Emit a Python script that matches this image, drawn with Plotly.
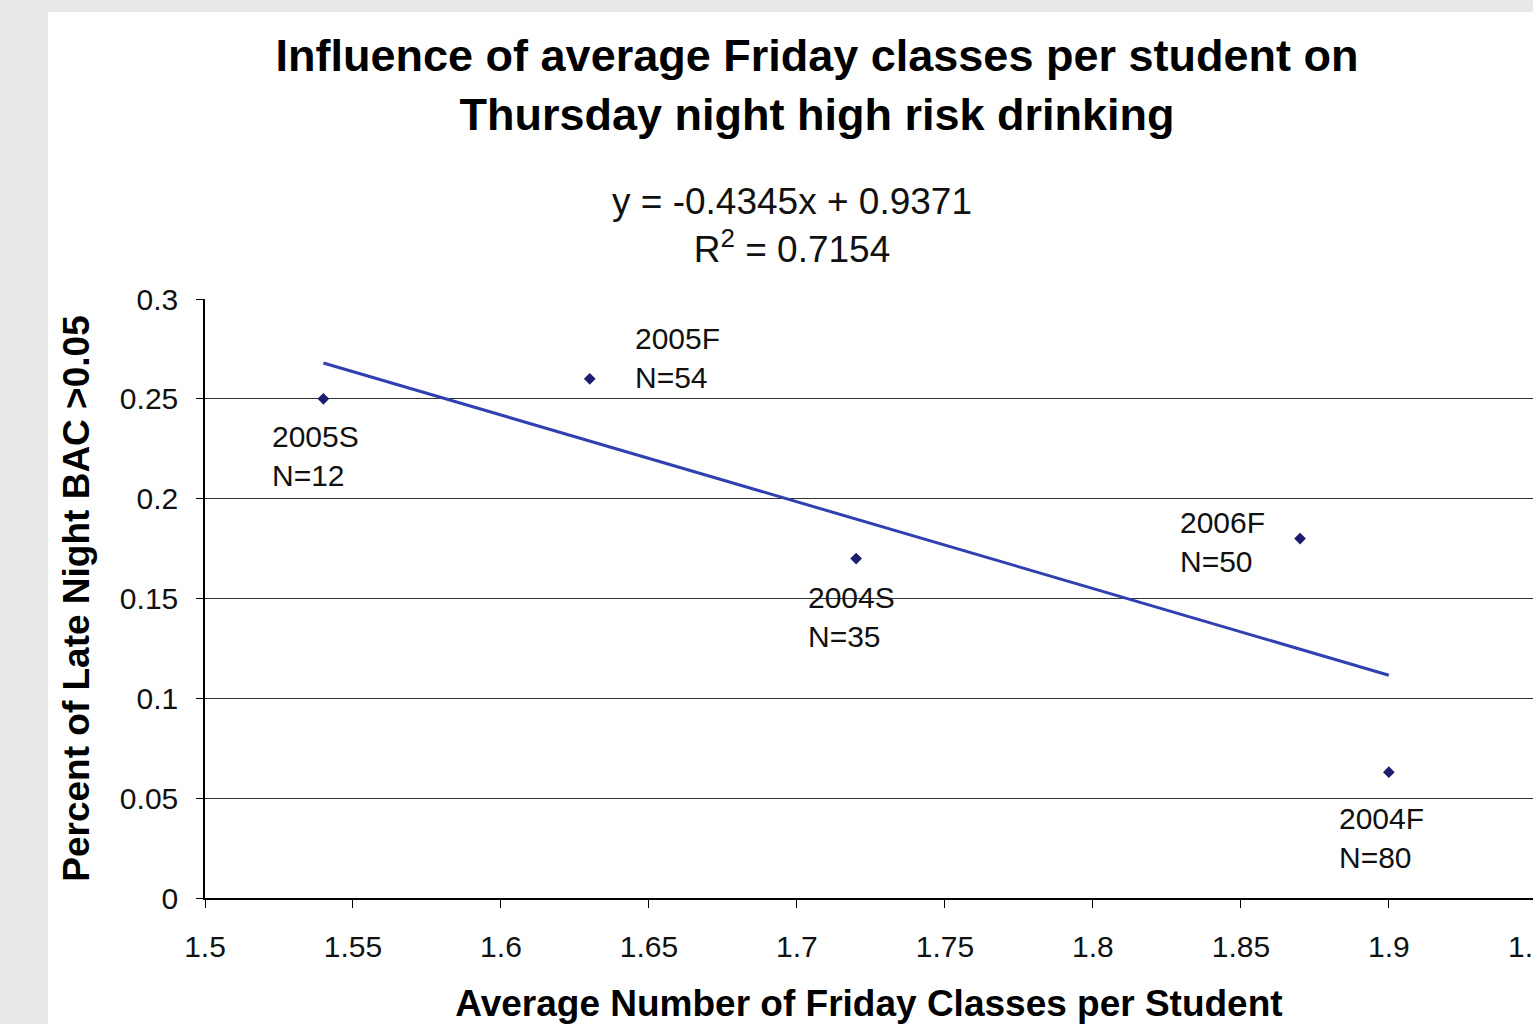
import plotly.graph_objects as go

# ---- data ----
terms = ["2005S", "2005F", "2004S", "2006F", "2004F"]
sample_sizes = [12, 54, 35, 50, 80]
friday_classes = [1.54, 1.63, 1.72, 1.87, 1.90]
pct_bac = [0.25, 0.26, 0.17, 0.18, 0.063]
slope = -0.4345
intercept = 0.9371
r_squared = 0.7154
x_ticks = [1.5, 1.55, 1.6, 1.65, 1.7, 1.75, 1.8, 1.85, 1.9, 1.95]
y_ticks = [0, 0.05, 0.1, 0.15, 0.2, 0.25, 0.3]

# label offsets (pixels, style only): (xshift, yshift)
label_offsets = [(-53, -57), (43, 21), (-50, -58), (-122, -3), (-52, -66)]

FONT = "Arial, Liberation Sans, sans-serif"
X_RANGE = [1.5, 1.9487]  # axis continues past the right edge of the picture

fig = go.Figure()

x_fit = [min(friday_classes), max(friday_classes)]
y_fit = [slope * v + intercept for v in x_fit]
fig.add_trace(go.Scatter(x=x_fit, y=y_fit, mode="lines",
                         line=dict(color="#3040b0", width=3),
                         hoverinfo="skip", showlegend=False))
fig.add_trace(go.Scatter(x=friday_classes, y=pct_bac, mode="markers",
                         marker=dict(symbol="diamond", size=9, color="#1c1c70"),
                         showlegend=False))

for t, n, xv, yv, (dx, dy) in zip(terms, sample_sizes, friday_classes, pct_bac, label_offsets):
    fig.add_annotation(x=xv, y=yv, xref="x", yref="y", text=f"{t}<br>N={n}",
                       showarrow=False, xanchor="left", yanchor="middle", align="left",
                       xshift=dx, yshift=dy, font=dict(family=FONT, size=30, color="#111"))

# last tick label, cut by the right edge as in the original
last_tick = x_ticks[-1]
fig.add_annotation(xref="paper", yref="paper",
                   x=(last_tick - X_RANGE[0]) / (X_RANGE[1] - X_RANGE[0]), y=-0.0818,
                   xanchor="center", yanchor="middle", text=f"{last_tick}", showarrow=False,
                   font=dict(family=FONT, size=30, color="#111"))

fig.add_annotation(xref="paper", yref="paper", x=0.442, y=1.1235, xanchor="center", yanchor="middle",
                   text=f"y = {slope}x + {intercept}<br>R<sup>2</sup> = {r_squared}",
                   showarrow=False, font=dict(family=FONT, size=37, color="#111"))

# white panel over gray page
fig.add_shape(type="rect", xref="paper", yref="paper", x0=(48 - 205) / 1328, x1=1.05,
              y0=-0.25, y1=(898 - 12) / 599, fillcolor="white", line=dict(width=0), layer="below")

fig.update_layout(
    width=1533, height=1024,
    margin=dict(l=205, r=0, t=299, b=126, autoexpand=False),
    paper_bgcolor="#e8e8e8", plot_bgcolor="white",
    title=dict(text="Influence of average Friday classes per student on<br>Thursday night high risk drinking",
               x=817 / 1533, xanchor="center", xref="container", y=1 - 71 / 1024, yanchor="top",
               font=dict(family=FONT, size=45, color="#000", weight="bold")),
    font=dict(family=FONT, color="#111"),
)
fig.update_xaxes(range=X_RANGE, tickvals=x_ticks, ticks="outside", ticklen=8, tickcolor="#000",
                 showline=True, linecolor="#000", linewidth=1.5, showgrid=False, zeroline=False,
                 tickfont=dict(size=30, family=FONT, color="#111"), ticklabelstandoff=13,
                 title=dict(text="<b>Average Number of Friday Classes per Student</b>",
                            font=dict(size=37, family=FONT, color="#000"), standoff=38),
                 automargin=False)
fig.update_yaxes(range=[0, 0.3], tickvals=y_ticks, ticks="outside", ticklen=7, tickcolor="#000",
                 showline=True, linecolor="#000", linewidth=1.5, showgrid=True, gridcolor="#333",
                 gridwidth=1, zeroline=False,
                 tickfont=dict(size=30, family=FONT, color="#111"), ticklabelstandoff=12,
                 title=dict(text="<b>Percent of Late Night BAC >0.05</b>",
                            font=dict(size=37, family=FONT, color="#000"), standoff=19),
                 automargin=False)

fig.write_html("out.html", config={"displayModeBar": False},
               post_script="document.body.style.margin='0';document.body.style.background='#e8e8e8';")
